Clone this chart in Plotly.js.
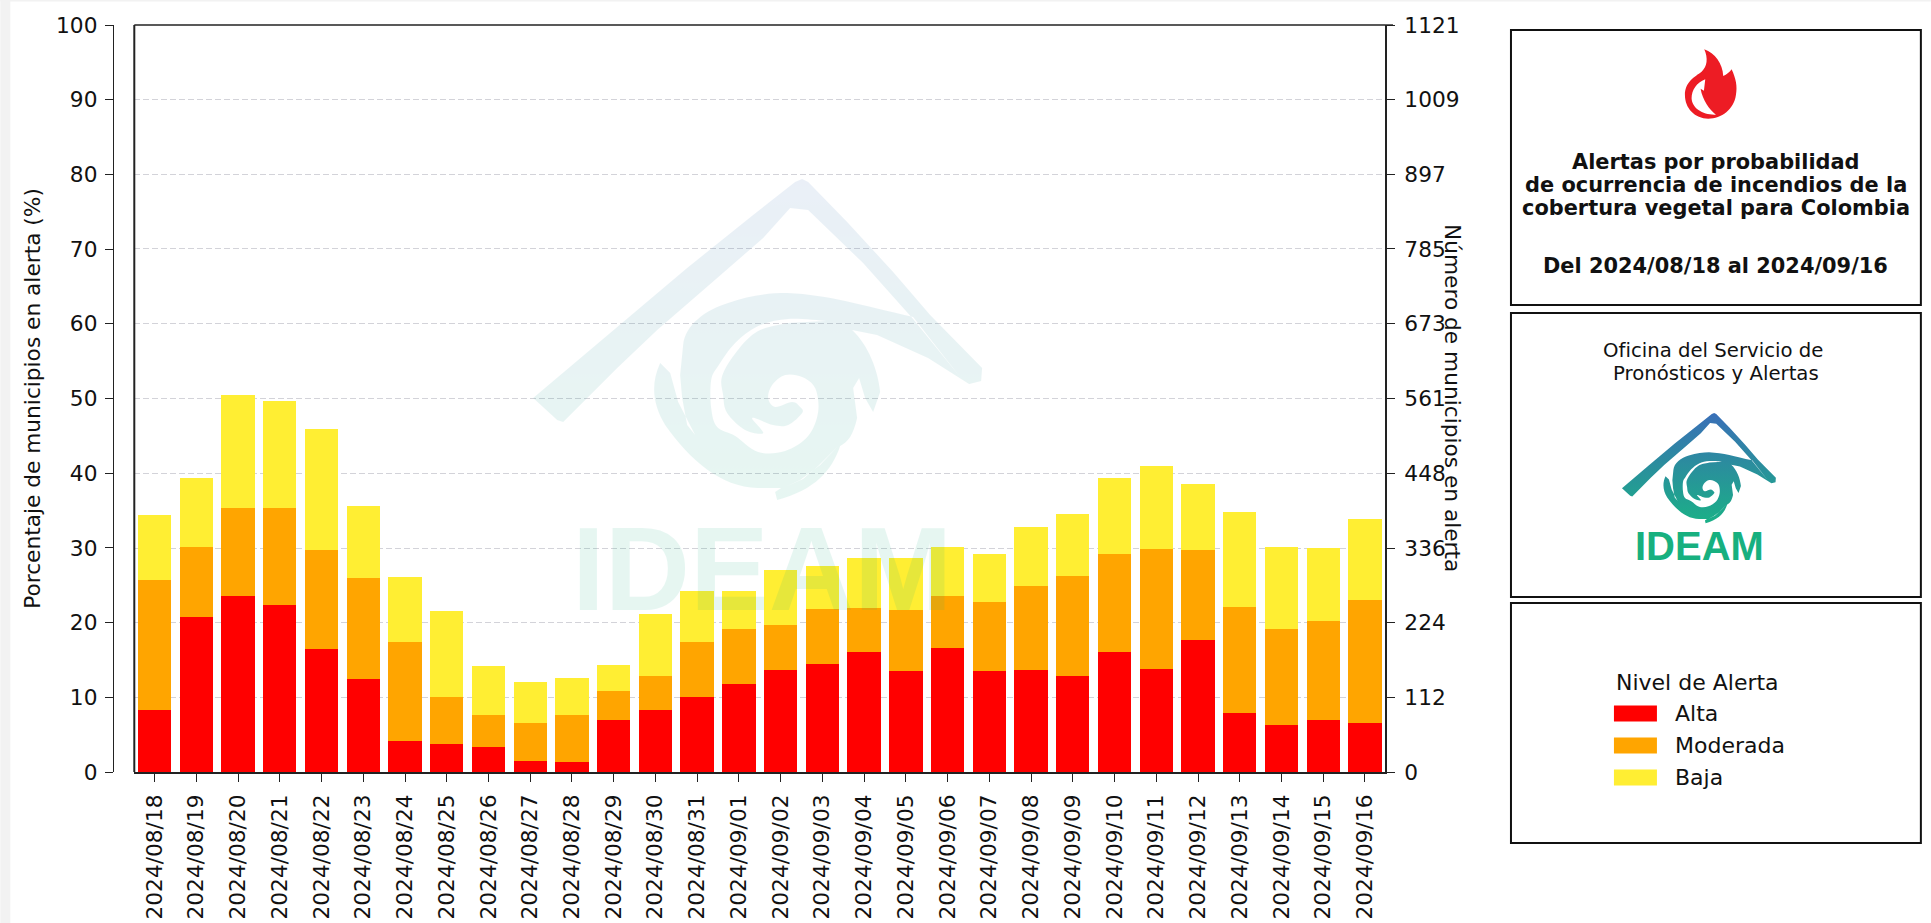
<!DOCTYPE html>
<html lang="es">
<head>
<meta charset="utf-8">
<title>Alertas por probabilidad de incendios</title>
<script src="https://cdn.plot.ly/plotly-3.0.1.min.js"></script>
<style>html,body{margin:0;padding:0;background:#fff;overflow:hidden}#chart{width:1931px;height:923px}</style>
</head>
<body>
<div id="chart"></div>
<script>
const categories = ["2024/08/18","2024/08/19","2024/08/20","2024/08/21","2024/08/22","2024/08/23","2024/08/24","2024/08/25","2024/08/26","2024/08/27","2024/08/28","2024/08/29","2024/08/30","2024/08/31","2024/09/01","2024/09/02","2024/09/03","2024/09/04","2024/09/05","2024/09/06","2024/09/07","2024/09/08","2024/09/09","2024/09/10","2024/09/11","2024/09/12","2024/09/13","2024/09/14","2024/09/15","2024/09/16"];
const alta = [8.3,20.8,23.6,22.3,16.5,12.5,4.1,3.7,3.3,1.5,1.4,6.9,8.3,10.0,11.8,13.6,14.5,16.0,13.5,16.6,13.5,13.7,12.9,16.1,13.8,17.7,7.9,6.3,6.9,6.6];
const moderada = [17.4,9.3,11.8,13.0,13.25,13.5,13.3,6.4,4.35,5.0,6.2,3.9,4.6,7.4,7.3,6.1,7.3,6.0,8.2,6.9,9.2,11.2,13.3,13.1,16.0,12.0,14.15,12.9,13.3,16.4];
const baja = [8.7,9.3,15.1,14.4,16.15,9.6,8.7,11.4,6.55,5.5,5.0,3.5,8.2,6.8,5.1,7.35,5.8,6.6,7.0,6.6,6.45,7.9,8.4,10.1,11.2,8.9,12.75,10.9,9.8,10.9];
const leftTicks = [0,10,20,30,40,50,60,70,80,90,100];
const rightTicks = [0,112,224,336,448,561,673,785,897,1009,1121];
const seriesNames = ["Alta","Moderada","Baja"];
const seriesColors = ["#ff0000","#ffa500","#ffee33"];

const FONT = "DejaVu Sans, sans-serif";
const SANS = "Liberation Sans, Arial, sans-serif";
const INK = "#222222";
const TICK = 21.7;
// page-pixel frame of the Plotly plot area
const L = 112.7, R = 1385, T = 25, B = 772;
const W = R - L, H = B - T;
const px = v => (v - L) / W;
const py = v => (B - v) / H;

function smooth(p){ // open Catmull-Rom through the listed outline points
  let d = "M"+p[0][0]+","+p[0][1];
  for(let i=0;i<p.length-1;i++){
    const a=p[Math.max(i-1,0)],b=p[i],c=p[i+1],e=p[Math.min(i+2,p.length-1)];
    d+=" C"+(b[0]+(c[0]-a[0])/6).toFixed(1)+","+(b[1]+(c[1]-a[1])/6).toFixed(1)+" "+(c[0]-(e[0]-b[0])/6).toFixed(1)+","+(c[1]-(e[1]-b[1])/6).toFixed(1)+" "+c[0]+","+c[1];
  }
  return d+" Z ";
}
const swirlHole = [[826,321],[788,319],[758,326],[735,343],[718,366],[711,380],[711,408],[717,427],[735,436],[758,452],[785,451],[808,436],[818,412],[815,388],[802,377],[785,375],[772,385],[768,398],[775,407],[792,402],[800,407],[802,413],[788,425],[773,425],[752,418],[763,433],[745,430],[727,413],[723,395],[722,376],[737,351],[758,331],[788,323]];
const logoPaths =
 "M533,398 L610,333 L687,268 L753,215 L795,182 L802,179 L808,182 L847,222 L893,272 L930,315 L982,368 L981,381 L969,384 L960,377 L913,319 L863,263 L808,210 L790,208 L763,238 L717,278 L657,330 L617,368 L563,422 L557,420 Z " +
 "M969,384 L928,358 L877,335 L852,330 C868,345 878,370 880,392 L873,412 L865,398 L859,378 L853,388 L857,418 C853,435 848,442 840,446 C832,470 815,490 777,500 L775,492 L781,488 L758,488 C720,487 690,460 665,425 C653,405 650,385 660,363 L670,373 L678,402 L695,435 L687,425 L682,398 L680,375 L683,345 C685,325 705,310 728,303 C750,295 770,293 787,293 C830,295 860,305 913,317 L960,377 Z " +
 smooth(swirlHole) +
 "M838,446 L820,465 L800,480 L785,487 L803,479 L818,466 Z";
const logoSvg = "<svg xmlns='http://www.w3.org/2000/svg' viewBox='530 176 455 328' preserveAspectRatio='none'>" +
 "<defs><linearGradient id='g' gradientUnits='userSpaceOnUse' x1='0' y1='179' x2='0' y2='500'>" +
 "<stop offset='0' stop-color='#3a6fb8'/><stop offset='0.45' stop-color='#2b8c9e'/><stop offset='1' stop-color='#1bb087'/></linearGradient></defs>" +
 "<path fill='url(#g)' fill-rule='evenodd' d='" + logoPaths + "'/></svg>";
const flameSvg = "<svg xmlns='http://www.w3.org/2000/svg' viewBox='0 0 255 270' preserveAspectRatio='none'>" +
 "<path fill='#ed1c24' fill-rule='evenodd' d='M103,28 C135,40 158,70 160,108 C170,104 180,96 185,88 C198,115 203,140 198,165 C192,208 155,236 115,236 C75,236 45,205 45,165 C45,125 75,110 95,95 C112,80 115,55 103,28 Z " +
 "M106,118 C80,128 65,150 65,175 C66,205 100,226 138,224 C118,208 98,180 92,146 L102,152 Z'/></svg>";
const uri = s => "data:image/svg+xml;charset=utf-8," + encodeURIComponent(s);
const img = (svg, x, y, w, h, opacity) => ({source: uri(svg), xref:"paper", yref:"paper", x:px(x), y:py(y), sizex:w/W, sizey:h/H, xanchor:"left", yanchor:"top", sizing:"stretch", layer:"above", opacity});

const text = (str, x, y, size, extra) => Object.assign({text:str, xref:"paper", yref:"paper", x:px(x), y:py(y), xanchor:"center", yanchor:"middle", showarrow:false, align:"center", font:{family:FONT, size, color:"#111111"}}, extra||{});
const box = (x0,y0,x1,y1) => ({type:"rect", xref:"paper", yref:"paper", x0:px(x0), x1:px(x1), y0:py(y0), y1:py(y1), line:{color:"#111111", width:2}, fillcolor:"rgba(0,0,0,0)", layer:"above"});
const line = (x0,y0,x1,y1,width) => ({type:"line", xref:"paper", yref:"paper", x0:px(x0), x1:px(x1), y0:py(y0), y1:py(y1), line:{color:INK, width}, layer:"above"});

const headerLines = ["Alertas por probabilidad","de ocurrencia de incendios de la","cobertura vegetal para Colombia","Del 2024/08/18 al 2024/09/16"];
const headerY = [162,185,208,266];
const officeLines = ["Oficina del Servicio de","Pronósticos y Alertas"];
const officeX = [1713,1716];
const officeY = [350,373];
const legendY = [713,745,777];

const values = [alta, moderada, baja];
const traces = seriesNames.map((name,i) => ({type:"bar", name, x:categories, y:values[i], width:0.8, marker:{color:seriesColors[i], line:{width:0}}, showlegend:false, hoverinfo:"x+y+name"}));
traces.push({type:"scatter", mode:"markers", x:[categories[0]], y:[0], yaxis:"y2", marker:{opacity:0}, showlegend:false, hoverinfo:"skip"});

const tickFont = {family:FONT,size:TICK,color:"#111111"};
const layout = {
  width:1931, height:923, paper_bgcolor:"#ffffff", plot_bgcolor:"rgba(0,0,0,0)",
  margin:{l:L, r:1931-R, t:T, b:923-B, pad:0, autoexpand:false},
  barmode:"stack", bargap:0.2, showlegend:false,
  font:{family:FONT, color:"#111111", size:TICK},
  xaxis:{type:"category", domain:[(134-L)/W,1], range:[-0.486,29.48], categoryorder:"array", categoryarray:categories, tickangle:-90, ticks:"outside", ticklen:8, tickwidth:1.4, tickcolor:INK, ticklabelstandoff:4, tickfont:tickFont, showline:true, linecolor:INK, linewidth:1.6, showgrid:false, zeroline:false, automargin:false},
  yaxis:{anchor:"free", position:0, side:"left", range:[0,100], tickmode:"array", tickvals:leftTicks, ticktext:leftTicks.map(String), ticks:"outside", ticklen:8, tickwidth:1.4, tickcolor:INK, ticklabelstandoff:3, tickfont:tickFont, showline:true, linecolor:INK, linewidth:1.4, showgrid:false, zeroline:false, automargin:false, title:{text:"Porcentaje de municipios en alerta (%)", font:tickFont, standoff:8}},
  yaxis2:{overlaying:"y", anchor:"x", side:"right", range:[0,1121], tickmode:"array", tickvals:rightTicks, ticktext:rightTicks.map(String), ticks:"outside", ticklen:8, tickwidth:1.4, tickcolor:INK, ticklabelstandoff:5, tickfont:tickFont, showline:true, linecolor:INK, linewidth:2, showgrid:true, gridcolor:"rgba(110,110,130,0.3)", griddash:"6px,3px", gridwidth:1.2, zeroline:false, automargin:false},
  shapes:[
    {type:"rect", xref:"paper", yref:"paper", x0:px(0), x1:px(10), y0:py(923), y1:py(0), fillcolor:"#f2f2f2", line:{width:0}, layer:"below"},
    {type:"rect", xref:"paper", yref:"paper", x0:px(0), x1:px(1931), y0:py(1.5), y1:py(0), fillcolor:"#f2f2f2", line:{width:0}, layer:"below"},
    line(134,T,134,B,2),
    line(134,T,R,T,1.6),
    line(R,T,R+8,T,1.4),
    box(1511,30,1921,305),
    box(1511,313,1921,597),
    box(1511,603,1921,843)
  ].concat(seriesColors.map((c,i) => ({type:"rect", xref:"paper", yref:"paper", x0:px(1614), x1:px(1657), y0:py(legendY[i]+8.5), y1:py(legendY[i]-7.5), fillcolor:c, line:{width:0}, layer:"above"}))),
  images:[
    img(logoSvg, 530,176,455,328, 0.1),
    img(logoSvg, 1621,412,156,112.5, 1),
    img(flameSvg, 1670,40,85,90, 1)
  ],
  annotations:[
    text("Número de municipios en alerta", 1453, 398, TICK, {textangle:90}),
    text("<b>IDEAM</b>", 762, 569, 118, {opacity:0.1, font:{family:SANS, size:118, color:"#14b083"}}),
    text("<b>IDEAM</b>", 1700, 546, 40, {font:{family:SANS, size:40, color:"#17b07f"}}),
    text("Nivel de Alerta", 1698, 682, 22)
  ]
  .concat(headerLines.map((s,i) => text("<b>"+s+"</b>", 1716, headerY[i], 20.9)))
  .concat(officeLines.map((s,i) => text(s, officeX[i], officeY[i], 19.7)))
  .concat(seriesNames.map((s,i) => text(s, 1673, legendY[i], 22, {xanchor:"left", align:"left"})))
};

Plotly.newPlot("chart", traces, layout, {displayModeBar:false, responsive:false});
</script>
</body>
</html>
